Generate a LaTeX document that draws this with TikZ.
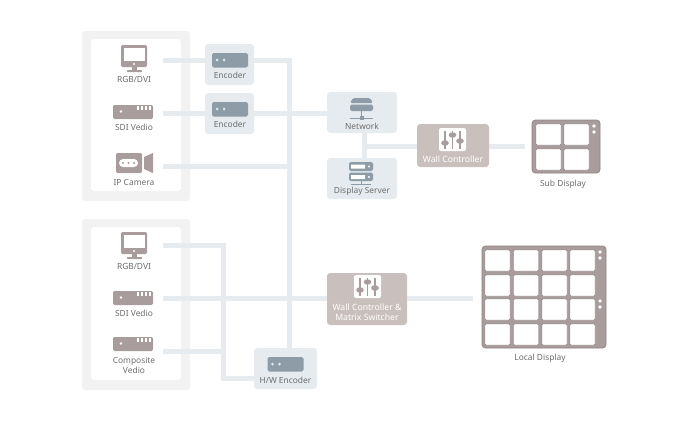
\documentclass[tikz,border=0pt]{standalone}
\usepackage{fontspec}
\setmainfont{Noto Sans}
\usetikzlibrary{fit}
\definecolor{wirec}{HTML}{E6EBEF}
\definecolor{grpc}{HTML}{F2F2F2}
\definecolor{boxc}{HTML}{E6EBEF}
\definecolor{ctrlc}{HTML}{C9BFBD}
\definecolor{iconc}{HTML}{A89C9C}
\definecolor{edgec}{HTML}{8F8383}
\definecolor{enci}{HTML}{8D9CA6}
\definecolor{txtc}{HTML}{6E6E6E}
\tikzset{
  x=0.75pt,y=-0.75pt,
  wire/.style={draw=wirec,line width=3.75pt},
  pane/.style={inner sep=0pt,outer sep=0pt,rounded corners=2.5pt},
  group/.style={pane,fill=grpc},
  inner group/.style={pane,fill=white},
  lightbox/.style={pane,fill=boxc},
  ctrlbox/.style={pane,fill=ctrlc},
  screen/.style={pane,fill=iconc,draw=edgec,line width=.5pt},
  lbl/.style={inner sep=0pt,text=txtc,font=\fontsize{6.3}{7}\selectfont,align=center},
  wlbl/.style={lbl,text=white,font=\fontsize{6.5}{7.4}\selectfont\bfseries},
  ic/.style={fill=iconc},
  cell/.style={fill=white,draw=edgec,line width=.35pt,rounded corners=0.8pt},
  srv/.style={fill=enci,rounded corners=1.2pt},
  pics/monitor/.style={code={
    \fill[ic,rounded corners=1pt] (0,0) rectangle (26,22);
    \fill[white] (3,3) rectangle (24,16);
    \fill[white] (13,19) circle (1.2);
    \fill[ic] (11,22) rectangle (16,25);
    \fill[ic,rounded corners=.5pt] (6,25) rectangle (21,27);
  }},
  pics/sdi/.style={code={
    \fill[ic,rounded corners=1pt] (0,0) rectangle (40,14);
    \fill[white] (8,6.5) circle (1.4);
    \foreach \t in {23.5,27.5,31.5,35.5}{\fill[white] (\t,1) rectangle ++(2,4);}
  }},
  pics/enc/.style={code={
    \fill[srv] (0,0) rectangle (36,14.5);
    \fill[white!75!enci] (5,7) circle (1.5) (12,7) circle (1.5);
  }},
  pics/sliders/.style={code={
    \fill[white,rounded corners=1.5pt] (0,0) rectangle (27,23);
    \foreach \a/\b in {6/15,13.5/7,21/13}{
      \draw[iconc,line width=1.1pt] (\a,2.5) -- (\a,20.5);
      \fill[iconc,rounded corners=1.2pt] (\a-3.6,\b-2.4) rectangle (\a+3.6,\b+2.4);
    }
  }},
}
\begin{document}
\begin{tikzpicture}
\useasboundingbox (0,0) rectangle (683,421);
\fill[white] (0,0) rectangle (683,421);
% groups
\node[group,fit={(82,31)(190,201)}] (grpA) {};
\node[inner group,fit={(91,39)(181,191)}] (panelA) {};
\node[group,fit={(82,219)(190,390)}] (grpB) {};
\node[inner group,fit={(91,227)(181,380)}] (panelB) {};
% boxes
\node[lightbox,fit={(205,44)(254,85)}] (enc1) {};
\node[lightbox,fit={(205,93)(254,134)}] (enc2) {};
\node[lightbox,fit={(254,348)(317,389)}] (hw) {};
\node[lightbox,fit={(327,92)(397,133)}] (net) {};
\node[lightbox,fit={(327,158)(397,199)}] (dsrv) {};
\node[ctrlbox,fit={(417,124)(489,167)}] (wc) {};
\node[ctrlbox,fit={(327,273)(407,325)}] (wcm) {};
\node[screen,fit={(532,120)(600,173)}] (sub) {};
\node[screen,fit={(482,246)(606,348)}] (local) {};
% free ends and junctions
\coordinate (a1) at (163,60);
\coordinate (a2) at (163,113);
\coordinate (a3) at (163,166);
\coordinate (b1) at (163,245);
\coordinate (b2) at (163,298);
\coordinate (b3) at (163,351);
\coordinate (trunk) at (289,60);
\coordinate (bus) at (223,245);
\coordinate (drop) at (364,146);
\coordinate (subend) at (525,146);
\coordinate (locend) at (473,298);
% connectors
\draw[wire] (a1) -- (a1 -| enc1.west);
\draw[wire] (trunk -| enc1.east) -- (trunk) -- (trunk |- hw.north);
\draw[wire] (a2) -- (a2 -| enc2.west);
\draw[wire] (a2 -| enc2.east) -- (a2 -| net.west);
\draw[wire] (a3) -- (a3 -| trunk);
\draw[wire] (b1) -- (bus) -- (bus |- 0,378) -- (hw.west |- 0,378);
\draw[wire] (b2) -- (b2 -| wcm.west);
\draw[wire] (b3) -- (b3 -| bus);
\draw[wire] (drop |- net.south) -- (drop |- dsrv.north);
\draw[wire] (drop) -- (drop -| wc.west);
\draw[wire] (drop -| wc.east) -- (subend);
\draw[wire] (locend -| wcm.east) -- (locend);
% source icons
\pic at (121,45) {monitor};
\pic at (113,105) {sdi};
\fill[ic,rounded corners=1pt] (116,153) rectangle (142,173);
\fill[white,rounded corners=3pt] (119,159) rectangle (138,167);
\fill[iconc] (123,163) circle (1.2) (128.5,163) circle (1.2) (134,163) circle (1.2);
\fill[ic] (144,157) -- (153,153) -- (153,173) -- (144,169) -- cycle;
\pic at (121,232) {monitor};
\pic at (113,291) {sdi};
\pic at (113,337) {sdi};
% encoder icons
\pic at (212,53) {enc};
\pic at (212,102) {enc};
\pic at (267.5,357) {enc};
% network icon
\fill[srv] (350,103) -- (353,98) -- (370,98) -- (373,103) -- cycle;
\fill[srv] (350,104.5) rectangle (373,111);
\draw[enci,line width=.75pt] (350,118) -- (373,118) (361.5,111) -- (361.5,118);
\fill[enci] (359.5,115.5) rectangle (363.5,120);
% display server icon
\fill[srv] (349,162) rectangle (373,171);
\fill[srv] (349,172.5) rectangle (373,181);
\fill[white] (369,166.5) circle (1.1) (369,177) circle (1.1);
\fill[white] (351,164.5) rectangle (365,168.5) (351,175) rectangle (365,179);
\draw[enci,line width=.75pt] (361,181) -- (361,184) (351,184) -- (371,184);
% controller icons
\pic at (439,128) {sliders};
\pic at (354,275) {sliders};
% sub display
\foreach \cx in {536,564}\foreach \cy/\ch in {124/21,149/21}{
  \fill[cell] (\cx,\cy) rectangle ++(25,\ch);
}
\fill[white] (594,126) circle (1.9) (594,132) circle (1.9);
% local display
\foreach \cx in {485,513.5,542,570}\foreach \cy in {250,275,299,324}{
  \fill[cell] (\cx,\cy) rectangle ++(25,21);
}
\fill[white] (600,252) circle (1.9) (600,258) circle (1.9) (600,301) circle (1.9) (600,307) circle (1.9);
% labels
\node[lbl] (lA1) at (134,79.5) {RGB/DVI};
\node[lbl] (lA2) at (134,127) {SDI Vedio};
\node[lbl] (lA3) at (134,182) {IP Camera};
\node[lbl] (lB1) at (134,266) {RGB/DVI};
\node[lbl] (lB2) at (134,313) {SDI Vedio};
\node[lbl] (lB3) at (134,365.5) {Composite\\Vedio};
\node[lbl] (lE1) at (230,75) {Encoder};
\node[lbl] (lE2) at (230,124) {Encoder};
\node[lbl] (lH) at (285.5,380) {H/W Encoder};
\node[lbl] (lN) at (362,126) {Network};
\node[lbl] (lD) at (362,191) {Display Server};
\node[wlbl] (lW) at (453,159) {Wall Controller};
\node[wlbl] (lM) at (367,312) {Wall Controller \&\\Matrix Switcher};
\node[lbl] (lS) at (563,184) {Sub Display};
\node[lbl] (lL) at (540,358) {Local Display};
\end{tikzpicture}
\end{document}
